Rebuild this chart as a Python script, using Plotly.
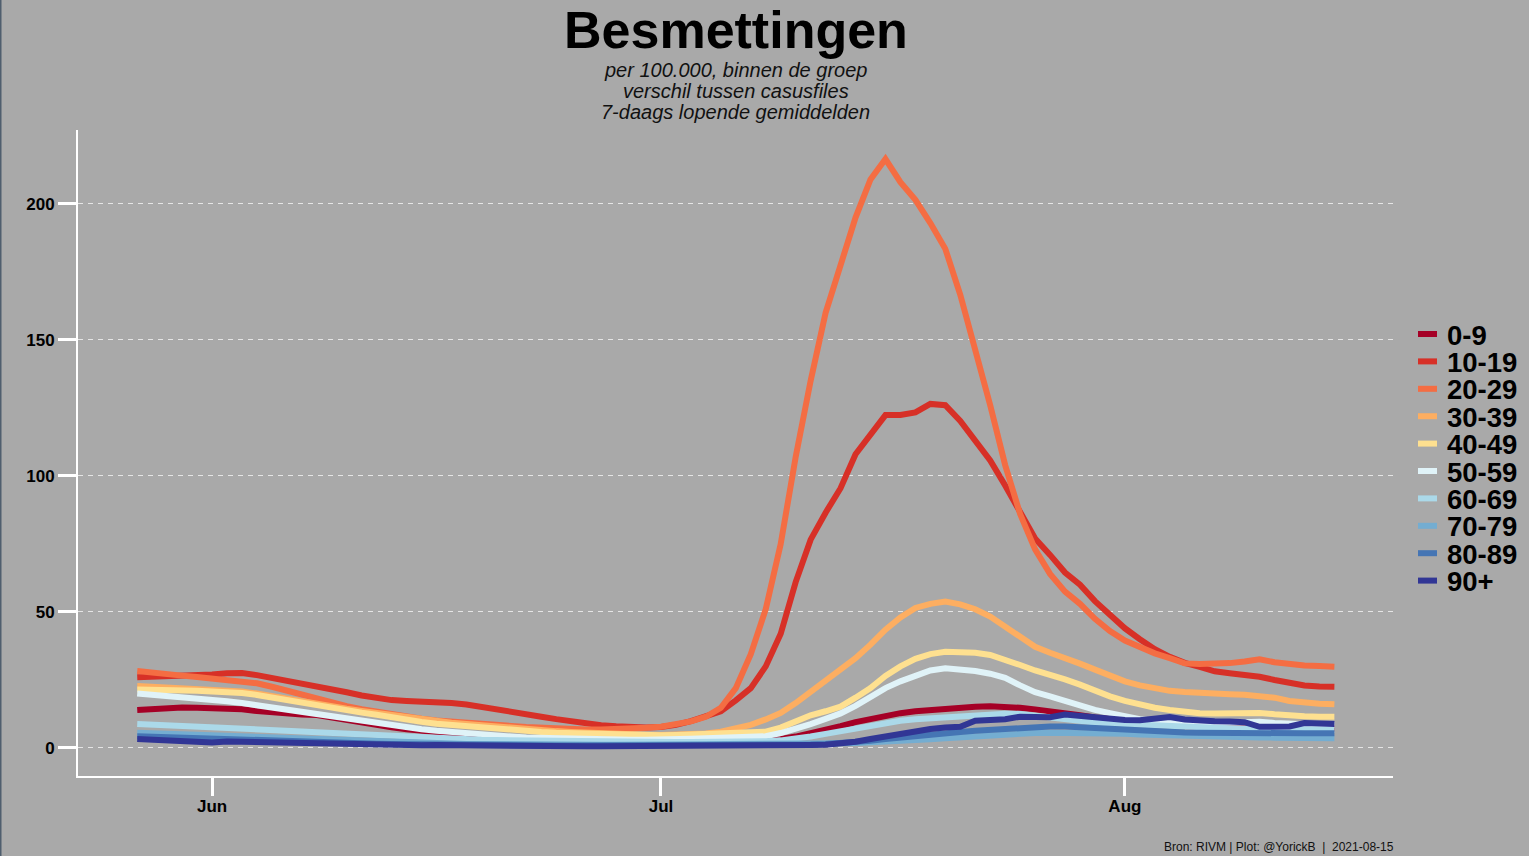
import plotly.graph_objects as go
import pandas as pd

# ---------------- data ----------------
start_date = "2021-05-27"
n_days = 81
dates = pd.date_range(start_date, periods=n_days, freq="D")

age_groups = ["0-9", "10-19", "20-29", "30-39", "40-49",
              "50-59", "60-69", "70-79", "80-89", "90+"]
colors = ["#A50026", "#D73027", "#F46D43", "#FDAE61", "#FEE090",
          "#E0F3F8", "#ABD9E9", "#74ADD1", "#4575B4", "#313695"]

age_0_9 = [14.0, 14.3, 14.8, 14.9, 14.8, 14.7, 14.5, 14.2, 13.6, 13.0, 12.6, 12.3, 12.1, 11.2, 9.8, 9.0, 8.3, 7.6, 6.9, 6.3,
           5.7, 5.2, 4.7, 4.3, 3.9, 3.6, 3.3, 3.1, 2.9, 2.7, 2.6, 2.5, 2.4, 2.4, 2.3,
           2.3, 2.3, 2.4, 2.5, 2.6, 2.7, 2.8, 2.9, 3.3, 4.2, 5.3, 6.7, 8.0, 9.5, 10.7, 11.8, 12.8, 13.5, 14.0, 14.5,
           14.9, 15.2, 15.3, 15.2, 14.8, 14.2, 13.6, 13.0, 12.0, 11.2, 10.6, 10.0, 9.5, 8.9, 8.4, 8.1, 7.8, 7.7, 7.7,
           7.8, 7.8, 7.7, 7.5, 7.4, 7.3, 7.2]
age_10_19 = [26.0, 26.2, 26.2, 26.3, 26.8, 27.0, 27.5, 27.6, 26.8, 25.8, 24.8, 24.0, 23.0, 21.5, 20.5, 19.3, 18.2, 17.6, 17.3, 17.2,
             17.0, 16.5, 16.0, 15.2, 14.4, 13.5, 12.5, 11.5, 10.6, 9.7, 8.9, 8.4, 8.0, 7.6, 7.5,
             7.7, 8.5, 9.9, 11.6, 13.5, 17.5, 22.0, 30.0, 42.0, 61.0, 76.6, 86.5, 95.5, 108.0, 115.0, 122.4, 122.4,
             123.4, 126.5, 126.0, 120.2, 113.0, 105.7, 96.5, 87.0, 77.0, 71.0, 64.5, 60.0, 54.0, 49.0, 44.0, 40.0,
             36.3, 33.5, 31.3, 29.8, 28.2, 27.5, 27.0, 26.2, 25.0, 23.8, 23.0, 22.6, 22.5]
age_20_29 = [28.3, 27.6, 27.2, 26.6, 26.1, 25.6, 25.1, 24.6, 23.8, 22.5, 21.0, 19.5, 18.0, 16.6, 15.4, 14.3, 13.3, 12.5, 11.6, 10.8,
             10.1, 9.6, 9.2, 8.8, 8.4, 8.1, 7.7, 7.4, 7.1, 6.9, 6.8, 6.8, 6.9, 7.1, 7.4,
             7.8, 8.6, 9.8, 11.5, 14.8, 22.0, 34.5, 51.0, 75.0, 107.0, 135.0, 160.0, 177.0, 195.0, 209.0, 216.5,
             208.0, 201.5, 193.0, 183.5, 166.6, 147.0, 126.0, 104.0, 86.0, 73.0, 64.0, 57.5, 53.0, 47.5, 43.0, 39.5,
             37.0, 34.8, 33.0, 31.1, 30.9, 30.9, 31.2, 31.8, 32.6, 31.5, 30.7, 30.3, 30.1, 29.9]
age_30_39 = [22.8, 22.5, 22.3, 22.0, 21.8, 21.6, 21.3, 20.8, 20.0, 19.0, 18.0, 17.0, 16.0, 15.2, 14.4, 13.6, 12.8, 12.0, 11.3, 10.6,
             9.9, 9.3, 8.8, 8.3, 7.8, 7.3, 6.9, 6.5, 6.2, 5.9, 5.6, 5.4, 5.2, 5.0, 4.9,
             4.8, 4.8, 5.0, 5.3, 6.0, 7.0, 8.5, 10.5, 12.9, 16.5, 20.5, 24.5, 28.7, 33.0, 38.0, 43.5, 48.0, 51.5,
             53.0, 53.8, 52.8, 51.0, 48.3, 44.5, 40.5, 37.2, 35.0, 33.2, 31.0, 28.8, 26.5, 24.5, 23.0, 21.8, 21.0,
             20.6, 20.2, 20.0, 19.8, 19.6, 19.3, 18.5, 17.3, 16.7, 16.3, 16.1]
age_40_49 = [21.5, 21.5, 21.3, 21.2, 21.0, 20.8, 20.6, 20.2, 19.5, 18.5, 17.5, 16.5, 15.5, 14.6, 13.8, 13.0, 12.2, 11.2, 10.4, 9.6,
             8.9, 8.4, 7.9, 7.4, 7.0, 6.6, 6.2, 5.9, 5.6, 5.4, 5.2, 5.0, 4.9, 4.8, 4.7,
             4.7, 4.8, 5.0, 5.1, 5.2, 5.3, 5.5, 6.0, 7.5, 10.0, 12.0, 13.5, 15.2, 18.5, 22.0, 26.5, 30.0, 32.8,
             34.5, 35.4, 35.3, 35.0, 34.2, 32.5, 30.5, 28.5, 27.0, 25.2, 23.3, 21.0, 19.0, 17.3, 15.8, 14.8, 14.0,
             13.3, 12.8, 12.7, 12.8, 13.0, 12.9, 12.4, 11.9, 11.7, 11.5, 11.5]
age_50_59 = [20.0, 19.6, 19.2, 18.8, 18.3, 17.8, 17.2, 16.5, 15.7, 14.9, 14.1, 13.2, 12.2, 11.2, 10.4, 9.6, 8.9, 8.2, 7.5, 6.9,
             6.3, 5.8, 5.3, 4.9, 4.5, 4.2, 3.9, 3.7, 3.5, 3.3, 3.2, 3.1, 3.0, 3.0, 3.0,
             3.0, 3.2, 3.4, 3.6, 3.8, 4.0, 4.1, 4.3, 5.5, 7.0, 8.8, 10.7, 12.7, 15.5, 18.7, 22.0, 24.5, 26.5,
             28.5, 29.3, 29.0, 28.3, 27.3, 25.8, 23.0, 20.5, 19.0, 17.2, 15.8, 14.0, 12.8, 11.5, 10.6, 10.0, 9.6,
             9.3, 9.1, 9.2, 9.4, 9.7, 9.6, 9.2, 8.8, 8.7, 8.6, 8.5]
age_60_69 = [8.8, 8.6, 8.4, 8.2, 8.0, 7.8, 7.5, 7.3, 7.0, 6.7, 6.4, 6.1, 5.8, 5.5, 5.2, 4.9, 4.6, 4.3, 4.0, 3.8,
             3.6, 3.4, 3.2, 3.0, 2.9, 2.8, 2.7, 2.6, 2.5, 2.4, 2.3, 2.3, 2.2, 2.2, 2.2,
             2.2, 2.2, 2.2, 2.2, 2.3, 2.3, 2.4, 2.5, 2.8, 3.4, 4.2, 5.2, 6.2, 7.2, 8.2, 9.2, 10.0, 10.6,
             11.0, 11.4, 11.7, 12.0, 12.3, 12.6, 12.5, 11.8, 11.0, 10.3, 9.8, 9.4, 9.0, 8.7, 8.4, 8.1, 7.9,
             7.7, 7.5, 7.4, 7.3, 7.2, 7.1, 7.0, 6.9, 6.8, 6.7, 6.6]
age_70_79 = [5.6, 5.4, 5.2, 5.0, 4.8, 4.6, 4.4, 4.1, 3.8, 3.6, 3.4, 3.2, 3.0, 2.8, 2.6, 2.4, 2.2, 2.0, 1.9, 1.8,
             1.7, 1.6, 1.5, 1.5, 1.4, 1.4, 1.3, 1.3, 1.3, 1.2, 1.2, 1.2, 1.2, 1.2, 1.2,
             1.2, 1.2, 1.2, 1.2, 1.2, 1.2, 1.2, 1.2, 1.3, 1.4, 1.5, 1.6, 1.7, 1.8, 2.0, 2.2, 2.5, 2.8,
             3.2, 3.6, 4.0, 4.4, 4.8, 5.1, 5.3, 5.5, 5.6, 5.6, 5.6, 5.5, 5.4, 5.2, 5.0, 4.8, 4.6,
             4.4, 4.3, 4.2, 4.1, 4.0, 3.9, 3.8, 3.8, 3.7, 3.7, 3.6]
age_80_89 = [4.3, 4.1, 4.0, 3.8, 3.6, 3.4, 3.2, 3.0, 2.8, 2.6, 2.4, 2.2, 2.0, 1.9, 1.8, 1.7, 1.6, 1.5, 1.4, 1.3,
             1.2, 1.2, 1.1, 1.1, 1.0, 1.0, 1.0, 0.9, 0.9, 0.9, 0.9, 0.9, 0.9, 0.9, 0.9,
             0.9, 0.9, 0.9, 0.9, 0.9, 0.9, 0.9, 0.9, 1.0, 1.1, 1.3, 1.5, 1.8, 2.2, 2.7, 3.3, 3.9, 4.6,
             5.1, 5.5, 5.9, 6.3, 6.7, 7.0, 7.4, 7.8, 7.9, 7.9, 7.6, 7.2, 6.8, 6.5, 6.3, 6.1, 5.9,
             5.7, 5.6, 5.5, 5.5, 5.5, 5.4, 5.4, 5.4, 5.4, 5.4, 5.4]
age_90plus = [3.3, 3.1, 3.0, 2.9, 2.5, 2.0, 2.4, 2.3, 2.2, 2.1, 2.0, 1.9, 1.8, 1.4, 1.1, 1.3, 1.2, 1.1, 1.0, 1.0,
              1.1, 1.0, 0.9, 0.9, 0.8, 0.8, 0.7, 0.7, 0.6, 0.6, 0.6, 0.6, 0.6, 0.6, 0.6,
              0.7, 0.8, 0.9, 0.9, 1.0, 1.0, 1.0, 1.0, 1.0, 1.0, 1.1, 1.2, 1.5, 2.3, 3.3, 4.3, 5.3, 6.3,
              7.0, 7.5, 7.8, 10.0, 10.3, 10.6, 11.5, 11.5, 11.3, 12.3, 11.8, 11.0, 10.5, 10.3, 10.2, 10.7, 11.4,
              10.5, 10.0, 9.8, 9.7, 9.5, 7.8, 7.8, 7.9, 9.2, 9.0, 8.8]

series = [age_0_9, age_10_19, age_20_29, age_30_39, age_40_49,
          age_50_59, age_60_69, age_70_79, age_80_89, age_90plus]

y_ticks = [0, 50, 100, 150, 200]
x_tick_dates = ["2021-06-01", "2021-07-01", "2021-08-01"]
x_tick_labels = ["Jun", "Jul", "Aug"]

title_text = "Besmettingen"
subtitle_lines = ["per 100.000, binnen de groep",
                  "verschil tussen casusfiles",
                  "7-daags lopende gemiddelden"]
caption_text = "Bron: RIVM | Plot: @YorickB \u00a0|\u00a0 2021-08-15"

# ---------------- layout constants ----------------
W, H = 1529, 856
ML, MR, MT, MB = 78, 136, 130, 80
PW, PH = W - ML - MR, H - MT - MB
BG = "#A9A9A9"
FONT = "Liberation Sans, Arial, sans-serif"


def px_x(px):
    return (px - ML) / PW


def px_y(py):
    return (H - MB - py) / PH


fig = go.Figure()
for name, col, vals in zip(age_groups, colors, series):
    fig.add_trace(go.Scatter(x=dates, y=vals, mode="lines", name=name,
                             line=dict(color=col, width=6),
                             showlegend=False))

annotations = []
shapes = []

# title and subtitle
annotations.append(dict(text="<b>" + title_text + "</b>", xref="paper", yref="paper",
                        x=0.5, y=px_y(30), xanchor="center", yanchor="middle",
                        borderpad=0,
                        showarrow=False, font=dict(family=FONT, size=52, color="black")))
for i, line in enumerate(subtitle_lines):
    annotations.append(dict(text="<i>" + line + "</i>", xref="paper", yref="paper",
                            x=0.5, y=px_y(69.5 + 21.5 * i), xanchor="center", yanchor="middle",
                            borderpad=0,
                            showarrow=False, font=dict(family=FONT, size=20, color="#111111")))
# caption
annotations.append(dict(text=caption_text, xref="paper", yref="paper",
                        x=px_x(1396), y=px_y(847), xanchor="right", yanchor="middle",
                        showarrow=False, font=dict(family=FONT, size=12, color="#111111")))

# manual legend
leg_top = 334
leg_step = 27.4
for i, (name, col) in enumerate(zip(age_groups, colors)):
    cy = leg_top + leg_step * i
    shapes.append(dict(type="line", xref="paper", yref="paper",
                       x0=px_x(1418), x1=px_x(1437), y0=px_y(cy), y1=px_y(cy),
                       line=dict(color=col, width=6)))
    annotations.append(dict(text="<b>" + name + "</b>", xref="paper", yref="paper",
                            x=px_x(1446), y=px_y(cy + 1), xanchor="left", yanchor="middle",
                            borderpad=0,
                            showarrow=False, font=dict(family=FONT, size=27.5, color="black")))

# thin frame line at the left edge of the image
shapes.append(dict(type="line", xref="paper", yref="paper",
                   x0=px_x(0.5), x1=px_x(0.5), y0=px_y(H), y1=px_y(0),
                   line=dict(color="#4f5e6e", width=2)))

fig.update_layout(
    width=W, height=H, autosize=False,
    margin=dict(l=ML, r=MR, t=MT, b=MB, pad=0),
    paper_bgcolor=BG, plot_bgcolor=BG,
    font=dict(family=FONT, color="black"),
    showlegend=False,
    annotations=annotations,
    shapes=shapes,
    xaxis=dict(type="date", range=["2021-05-23 01:00", "2021-08-18 22:00"],
               tickvals=x_tick_dates, ticktext=x_tick_labels,
               ticks="outside", ticklen=18, tickwidth=2.5, tickcolor="white",
               ticklabelstandoff=-4,
               showline=True, linecolor="white", linewidth=2,
               showgrid=False, zeroline=False,
               tickfont=dict(family=FONT, size=17, color="black", weight="bold")),
    yaxis=dict(range=[-10.3, 227.2], tickvals=y_ticks,
               ticks="outside", ticklen=18, tickwidth=2.5, tickcolor="white",
               showline=True, linecolor="white", linewidth=2,
               showgrid=True, gridcolor="rgba(255,255,255,0.7)", gridwidth=1,
               griddash="5px,5px", zeroline=False,
               tickfont=dict(family=FONT, size=17, color="black", weight="bold")),
)

fig.write_html("out.html",
               config={"displayModeBar": False},
               post_script="document.body.style.margin='0';document.body.style.overflow='hidden';")
